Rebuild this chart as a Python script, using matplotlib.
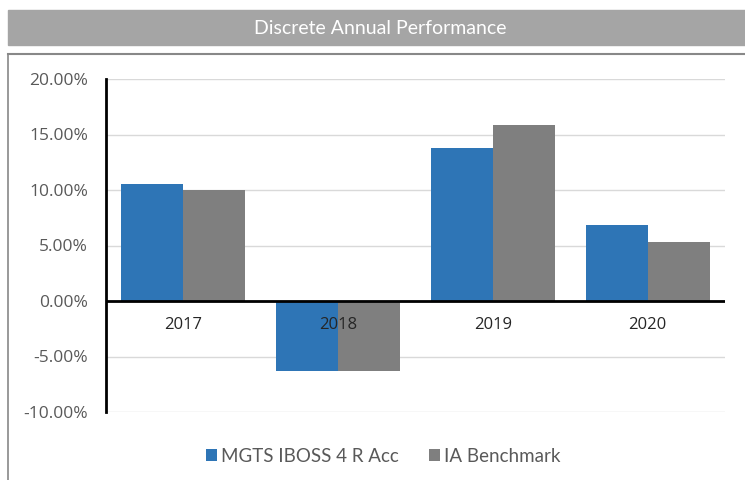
import matplotlib.pyplot as plt
import matplotlib.patches as mpatches
import numpy as np

years = ["2017", "2018", "2019", "2020"]
fund = [10.55, -6.35, 13.76, 6.87]
bench = [10.0, -6.3, 15.85, 5.3]
series_names = ["MGTS IBOSS 4 R Acc", "IA Benchmark"]
yticks = [-10, -5, 0, 5, 10, 15, 20]

blue = "#2e75b6"
grey = "#7f7f7f"

fig = plt.figure(figsize=(7.45, 4.8), dpi=100)

# title bar
fig.patches.append(mpatches.Rectangle((8 / 745, 1 - 45 / 480), 1 - 8 / 745, 35 / 480,
                                      transform=fig.transFigure, color="#a5a5a5", zorder=0))
fig.text(0.51, 1 - 28 / 480, "Discrete Annual Performance", color="white",
         fontsize=14, family="Lato", ha="center", va="center")

# chart border
fig.add_artist(plt.Line2D([8 / 745, 1], [1 - 54 / 480] * 2, color="#888888", lw=1.5,
                          transform=fig.transFigure))
fig.add_artist(plt.Line2D([8 / 745] * 2, [0, 1 - 54 / 480], color="#888888", lw=1.2,
                          transform=fig.transFigure))

ax = fig.add_axes([106 / 745, 1 - 412 / 480, (725 - 106) / 745, (412 - 79) / 480])
x = np.arange(len(years))
w = 0.4
ax.bar(x - w / 2, fund, w, color=blue, zorder=3, label=series_names[0])
ax.bar(x + w / 2, bench, w, color=grey, zorder=3, label=series_names[1])

ax.set_xlim(-0.5, len(years) - 0.5)
ax.set_ylim(-10, 20)
ax.set_yticks(yticks)
ax.set_yticklabels([f"{v:.2f}%" for v in yticks], color="#595959", fontsize=12.5,
                   family="Open Sans")
ax.tick_params(axis="y", length=0, pad=13)
ax.set_xticks([])
ax.grid(axis="y", color="#d9d9d9", lw=1, zorder=0)
for s in ["top", "right", "bottom"]:
    ax.spines[s].set_visible(False)
ax.spines["left"].set_linewidth(2)
ax.spines["left"].set_color("black")
ax.spines["left"].set_zorder(4)
ax.axhline(0, color="black", lw=2, zorder=4)

for i, yr in enumerate(years):
    ax.text(i, -2.2, yr, ha="center", va="center", fontsize=12, color="#262626",
            family="Open Sans", zorder=5)

leg = fig.legend(loc="center", bbox_to_anchor=(0.514, 1 - 456 / 480), ncol=2, frameon=False,
                 prop={"family": "Lato", "size": 13.5}, handlelength=0.6, handleheight=0.6,
                 handletextpad=0.2, columnspacing=1.6)
for t in leg.get_texts():
    t.set_color("#595959")

fig.savefig("out.png", dpi=100)
